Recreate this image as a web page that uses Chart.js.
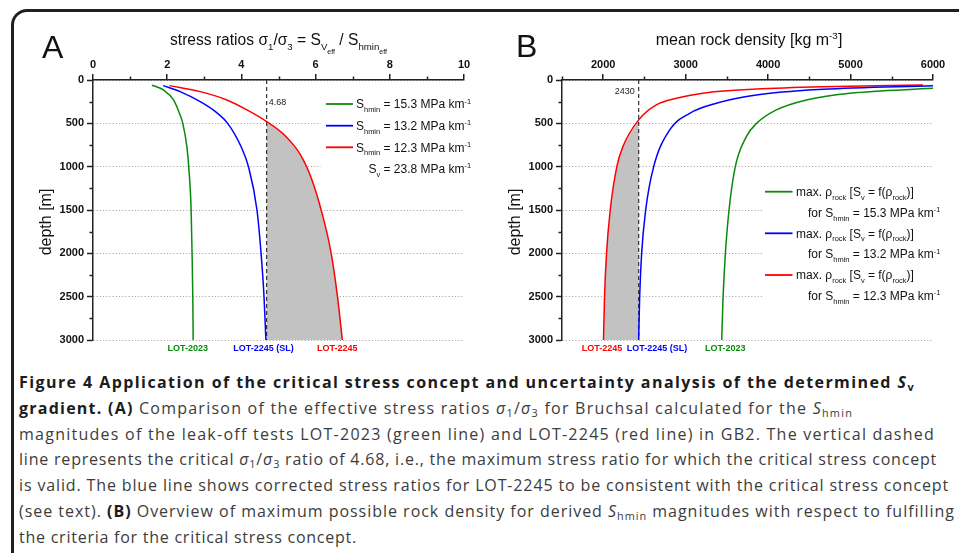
<!DOCTYPE html>
<html>
<head>
<meta charset="utf-8">
<script src="https://cdn.jsdelivr.net/npm/chart.js@4.4.0/dist/chart.umd.min.js"></script>
<style>
  body { margin: 0; width: 959px; height: 553px; overflow: hidden; background: #fff; position: relative; }
  .frame { position: absolute; left: 11px; top: 9px; width: 1200px; height: 800px; border: 3px solid #231f20; border-radius: 16px; box-sizing: border-box; }
  .panel { position: absolute; top: 0; }
  .cap { position: absolute; left: 19px; white-space: nowrap; font-family: 'Open Sans', sans-serif; font-size: 16px; line-height: 20px; color: #3c3c3c; }
  .cap b { color: #1c1c1c; }
  .cap .s { font-size: 0.68em; position: relative; top: 0.28em; }
</style>
</head>
<body>
<div class="frame"></div>
<canvas id="chartA" class="panel" style="left:0" width="480" height="360"></canvas>
<canvas id="chartB" class="panel" style="left:480px" width="479" height="360"></canvas>

<div class="cap"><b>Figure 4 Application of the critical stress concept and uncertainty analysis of the determined <i>S</i><span class="s">v</span></b></div>
<div class="cap"><b>gradient. (A)</b> Comparison of the effective stress ratios <i>σ</i><span class="s">1</span>/<i>σ</i><span class="s">3</span> for Bruchsal calculated for the <i>S</i><span class="s">hmin</span></div>
<div class="cap">magnitudes of the leak-off tests LOT-2023 (green line) and LOT-2245 (red line) in GB2. The vertical dashed</div>
<div class="cap">line represents the critical <i>σ</i><span class="s">1</span>/<i>σ</i><span class="s">3</span> ratio of 4.68, i.e., the maximum stress ratio for which the critical stress concept</div>
<div class="cap">is valid. The blue line shows corrected stress ratios for LOT-2245 to be consistent with the critical stress concept</div>
<div class="cap">(see text). <b>(B)</b> Overview of maximum possible rock density for derived <i>S</i><span class="s">hmin</span> magnitudes with respect to fulfilling</div>
<div class="cap">the criteria for the critical stress concept.</div>

<script>
// axes
const ratioMajor = [0, 2, 4, 6, 8, 10];
const ratioMinor = [1, 3, 5, 7, 9];
const densityMajor = [2000, 3000, 4000, 5000, 6000];
const densityMinor = [1500, 2500, 3500, 4500, 5500];
const depthMajor = [0, 500, 1000, 1500, 2000, 2500, 3000];
const depthMinor = [250, 750, 1250, 1750, 2250, 2750];

// panel A: effective stress ratio sigma1/sigma3 over depth
const depthGreenA = [60, 115, 230, 384, 500, 768, 1000, 1500, 2000, 2500, 3000];
const ratioGreen  = [1.59, 1.90, 2.17, 2.33, 2.42, 2.53, 2.58, 2.645, 2.67, 2.69, 2.70];
const depthBlueA  = [65, 134, 250, 365, 500, 768, 1000, 1500, 2000, 2500, 3000];
const ratioBlue   = [1.89, 2.35, 2.89, 3.30, 3.63, 3.99, 4.19, 4.42, 4.53, 4.61, 4.66];
const depthRedA   = [65, 134, 230, 345, 480, 653, 883, 1150, 1500, 2000, 2500, 3000];
const ratioRed    = [2.06, 2.89, 3.61, 4.15, 4.68, 5.20, 5.62, 5.90, 6.15, 6.42, 6.59, 6.72];
const criticalRatio = 4.68;
const criticalDepthA = 480;

// panel B: maximum mean rock density over depth
const depthGreenB = [96, 153, 230, 345, 500, 653, 1000, 1500, 2000, 2500, 3000];
const densGreen   = [6000, 4990, 4464, 4100, 3860, 3736, 3602, 3526, 3482, 3454, 3437];
const depthBlueB  = [65, 107, 173, 268, 384, 576, 1000, 1500, 2000, 2500, 3000];
const densBlue    = [6000, 4665, 3857, 3372, 3048, 2806, 2612, 2515, 2466, 2442, 2430];
const depthRedB   = [58, 77, 104, 146, 211, 288, 460, 768, 1000, 1500, 2000, 2500, 3000];
const densRed     = [5878, 4665, 3857, 3251, 2887, 2644, 2430, 2239, 2165, 2085, 2040, 2016, 2003];
const criticalDensity = 2430;
const criticalDepthB = 460;

const shminLabels = ['15.3', '13.2', '12.3'];
const svGradient = '23.8';
const lotLabelsA = ['LOT-2023', 'LOT-2245 (SL)', 'LOT-2245'];
const lotLabelsB = ['LOT-2245', 'LOT-2245 (SL)', 'LOT-2023'];

const FONT = '"Liberation Sans", Arial, sans-serif';
const AXIS = '#222';
const GREEN = '#0a8a0a';
const BLUE = '#0000ff';
const RED = '#ff0000';

Chart.defaults.font.family = FONT;
Chart.defaults.animation = false;

function pts(xs, ys) {
    return xs.map((x, i) => ({ x: x, y: ys[i] }));
}

function curve(xs, ys, color) {
    return { data: pts(xs, ys), showLine: true, borderColor: color, borderWidth: 1.5, pointRadius: 0, cubicInterpolationMode: 'monotone', order: 0 };
}

function dashed(value) {
    return { data: [{ x: value, y: 0 }, { x: value, y: 3000 }], showLine: true, borderColor: '#333', borderWidth: 1.2, borderDash: [4, 3], pointRadius: 0, order: 1 };
}

function shade(xs, ys, xCrit, yCrit) {
    let p = [{ x: xCrit, y: yCrit }];
    xs.forEach((x, i) => { if (ys[i] > yCrit) p.push({ x: x, y: ys[i] }); });
    p.push({ x: xCrit, y: ys[ys.length - 1] });
    return { data: p, showLine: true, fill: 'shape', backgroundColor: '#c2c2c2', borderWidth: 0, borderColor: 'rgba(0,0,0,0)', pointRadius: 0, tension: 0, order: 2 };
}

function axisX(min, max, major, height) {
    return {
        type: 'linear', position: 'top', min: min, max: max,
        afterBuildTicks: s => { s.ticks = major.map(v => ({ value: v })); },
        afterFit: s => { s.height = height; },
        grid: { drawOnChartArea: false, tickLength: 6, tickColor: AXIS, tickWidth: 1.5, lineWidth: 1.5, color: AXIS },
        border: { color: AXIS, width: 1.5 },
        ticks: { padding: 2, color: '#111', font: { size: 11, weight: 'bold' }, maxRotation: 0, autoSkip: false, callback: v => String(v) }
    };
}

function axisY(width) {
    return {
        type: 'linear', reverse: true, min: 0, max: 3000,
        afterBuildTicks: s => { s.ticks = depthMajor.map(v => ({ value: v })); },
        afterFit: s => { s.width = width; },
        grid: { color: '#9a9a9a', lineWidth: 1, tickLength: 6, tickColor: AXIS, tickWidth: 1.5 },
        border: { color: AXIS, width: 1.5, dash: [1, 2.2] },
        ticks: { padding: 3, color: '#111', font: { size: 11, weight: 'bold' }, autoSkip: false, callback: v => String(v) }
    };
}

// text with sub/superscripts: parts = [[text, mode]], mode '' | 'b' (sub) | 'p' (sup) | 'bb' (sub of sub)
const MODES = { '': [1, 0], 'b': [0.62, 0.32], 'p': [0.62, -0.4], 'bb': [0.45, 0.55] };
function rich(ctx, parts, x, y, size, align, color, weight) {
    weight = weight || 'normal';
    let w = 0;
    parts.forEach(p => {
        ctx.font = weight + ' ' + (size * MODES[p[1]][0]) + 'px ' + FONT;
        w += ctx.measureText(p[0]).width;
    });
    let cx = align === 'center' ? x - w / 2 : (align === 'right' ? x - w : x);
    ctx.save();
    ctx.fillStyle = color || '#111';
    ctx.textAlign = 'left';
    ctx.textBaseline = 'alphabetic';
    parts.forEach(p => {
        let m = MODES[p[1]];
        ctx.font = weight + ' ' + (size * m[0]) + 'px ' + FONT;
        ctx.fillText(p[0], cx, y + m[1] * size);
        cx += ctx.measureText(p[0]).width;
    });
    ctx.restore();
    return w;
}

function text(ctx, str, x, y, font, color, align) {
    ctx.save();
    ctx.font = font;
    ctx.fillStyle = color;
    ctx.textAlign = align || 'left';
    ctx.textBaseline = 'alphabetic';
    ctx.fillText(str, x, y);
    ctx.restore();
}

function minorTicks(xMinor, yMinor) {
    return {
        id: 'minorTicks',
        afterDraw(chart) {
            const ctx = chart.ctx, sx = chart.scales.x, sy = chart.scales.y;
            ctx.save();
            ctx.strokeStyle = AXIS;
            ctx.lineWidth = 1.5;
            ctx.beginPath();
            xMinor.forEach(v => {
                const px = Math.round(sx.getPixelForValue(v)) + 0.5;
                ctx.moveTo(px, sy.top);
                ctx.lineTo(px, sy.top - 3.5);
            });
            yMinor.forEach(v => {
                const py = Math.round(sy.getPixelForValue(v)) + 0.5;
                ctx.moveTo(sx.left, py);
                ctx.lineTo(sx.left - 3.5, py);
            });
            ctx.stroke();
            ctx.restore();
        }
    };
}

function legendBox(x, y, w, h) {
    return {
        id: 'legendBox',
        beforeDatasetsDraw(chart) {
            chart.ctx.save();
            chart.ctx.fillStyle = '#fff';
            chart.ctx.fillRect(x, y, w, h);
            chart.ctx.restore();
        }
    };
}

function sampleLine(ctx, x1, x2, y, color) {
    ctx.save();
    ctx.strokeStyle = color;
    ctx.lineWidth = 1.8;
    ctx.beginPath();
    ctx.moveTo(x1, y);
    ctx.lineTo(x2, y);
    ctx.stroke();
    ctx.restore();
}

function depthTitle(ctx, x, y) {
    ctx.save();
    ctx.translate(x, y);
    ctx.rotate(-Math.PI / 2);
    text(ctx, 'depth [m]', 0, 0, '16px ' + FONT, '#111', 'center');
    ctx.restore();
}

const decorA = {
    id: 'decorA',
    afterDraw(chart) {
        const ctx = chart.ctx, sx = chart.scales.x, sy = chart.scales.y;
        text(ctx, 'A', 42, 58, '32px ' + FONT, '#111');
        rich(ctx, [['stress ratios σ', ''], ['1', 'b'], ['/σ', ''], ['3', 'b'], [' = S', ''], ['V', 'b'], ['eff', 'bb'], [' / S', ''], ['hmin', 'b'], ['eff', 'bb']],
            (sx.left + sx.right) / 2, 45, 15.6, 'center', '#111');
        depthTitle(ctx, 51, 222);

        // critical ratio
        text(ctx, String(criticalRatio), sx.getPixelForValue(criticalRatio) + 2, 105, '9px ' + FONT, '#222');

        // labels at the bottom of the curves
        const ends = [[ratioGreen, GREEN, -5.5], [ratioBlue, BLUE, -2.5], [ratioRed, RED, -5]];
        ends.forEach((e, i) => {
            const px = sx.getPixelForValue(e[0][e[0].length - 1]) + e[2];
            text(ctx, lotLabelsA[i], px, 351, 'bold 9px ' + FONT, e[1], 'center');
        });

        // legend
        const rows = [104, 125.7, 147.3];
        const colors = [GREEN, BLUE, RED];
        let right = 0;
        rows.forEach((ry, i) => {
            sampleLine(ctx, 326, 353, ry, colors[i]);
            const w = rich(ctx, [['S', ''], ['hmin', 'b'], [' = ' + shminLabels[i] + ' MPa km', ''], ['-1', 'p']], 356, ry + 4.3, 12, 'left', '#111');
            right = 356 + w;
        });
        rich(ctx, [['S', ''], ['v', 'b'], [' = ' + svGradient + ' MPa km', ''], ['-1', 'p']], right, 168.5 + 4.3, 12, 'right', '#111');
    }
};

const decorB = {
    id: 'decorB',
    afterDraw(chart) {
        const ctx = chart.ctx, sx = chart.scales.x, sy = chart.scales.y;
        text(ctx, 'B', 36, 57, '32px ' + FONT, '#111');
        rich(ctx, [['mean rock density [kg m', ''], ['-3', 'p'], [']', '']], 269, 45, 16, 'center', '#111');
        depthTitle(ctx, 40, 222);

        text(ctx, String(criticalDensity), sx.getPixelForValue(criticalDensity) - 4, 94, '9px ' + FONT, '#222', 'right');

        const ends = [[densRed, RED, -1.5, 'center'], [densBlue, BLUE, -12, 'left'], [densGreen, GREEN, 3.5, 'center']];
        ends.forEach((e, i) => {
            const px = sx.getPixelForValue(e[0][e[0].length - 1]) + e[2];
            text(ctx, lotLabelsB[i], px, 351, 'bold 9px ' + FONT, e[1], e[3]);
        });

        const rows = [191.7, 233.3, 275];
        const colors = [GREEN, BLUE, RED];
        rows.forEach((ry, i) => {
            sampleLine(ctx, 285, 312.5, ry, colors[i]);
            rich(ctx, [['max. ρ', ''], ['rock', 'b'], [' [S', ''], ['v', 'b'], [' = f(ρ', ''], ['rock', 'b'], [')]', '']], 316, ry + 4.3, 12, 'left', '#111');
            rich(ctx, [['for S', ''], ['hmin', 'b'], [' = ' + shminLabels[i] + ' MPa km', ''], ['-1', 'p']], 328, ry + 20.8 + 4.3, 12, 'left', '#111');
        });
    }
};

new Chart(document.getElementById('chartA'), {
    type: 'scatter',
    data: {
        datasets: [
            curve(ratioGreen, depthGreenA, GREEN),
            curve(ratioBlue, depthBlueA, BLUE),
            curve(ratioRed, depthRedA, RED),
            dashed(criticalRatio),
            shade(ratioRed, depthRedA, criticalRatio, criticalDepthA)
        ]
    },
    options: {
        responsive: false,
        animation: false,
        layout: { padding: { left: 0, right: 16, top: 0, bottom: 20 } },
        plugins: { legend: { display: false }, tooltip: { enabled: false } },
        scales: { x: axisX(0, 10, ratioMajor, 80), y: axisY(93) }
    },
    plugins: [legendBox(321, 92, 159, 90), minorTicks(ratioMinor, depthMinor), decorA]
});

new Chart(document.getElementById('chartB'), {
    type: 'scatter',
    data: {
        datasets: [
            curve(densGreen, depthGreenB, GREEN),
            curve(densBlue, depthBlueB, BLUE),
            curve(densRed, depthRedB, RED),
            dashed(criticalDensity),
            shade(densRed, depthRedB, criticalDensity, criticalDepthB)
        ]
    },
    options: {
        responsive: false,
        animation: false,
        layout: { padding: { left: 0, right: 26, top: 0, bottom: 20 } },
        plugins: { legend: { display: false }, tooltip: { enabled: false } },
        scales: { x: axisX(1500, 6000, densityMajor, 80), y: axisY(82) }
    },
    plugins: [legendBox(283, 182, 196, 124), minorTicks(densityMinor, depthMinor), decorB]
});

// caption lines: baseline and right edge taken from the figure
const capBase = [388, 413.8, 439.6, 465.4, 491.2, 517, 542.6];
const capRight = [915, 853, 935, 937, 949, 955, 357];
document.querySelectorAll('.cap').forEach((el, i) => {
    el.style.top = (capBase[i] - 16) + 'px';
    const w = el.getBoundingClientRect().width;
    const n = el.textContent.length;
    el.style.letterSpacing = ((capRight[i] - 19 - w) / n) + 'px';
});
</script>
</body>
</html>
